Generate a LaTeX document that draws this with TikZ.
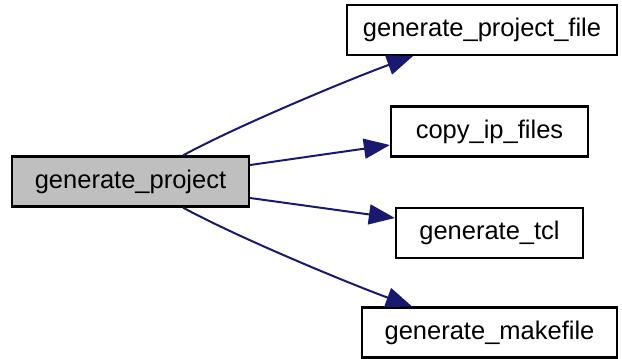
\documentclass[tikz,border=0pt]{standalone}
\usepackage{fontspec}
\setmainfont{Liberation Sans}
\usetikzlibrary{arrows.meta}
\definecolor{edgeblue}{HTML}{191970}
\definecolor{rootfill}{HTML}{BFBFBF}
\tikzset{
  fnbox/.style={draw=black, line width=2.2bp, fill=white, inner sep=0pt,
    minimum height=50bp, font=\fontsize{25.5bp}{30bp}\selectfont},
  rootbox/.style={fnbox, fill=rootfill},
  callarrow/.style={draw=edgeblue, line width=2bp,
    -{Triangle[length=26bp, width=20bp]}}
}
\begin{document}
\begin{tikzpicture}[x=1bp, y=-1bp]
  \useasboundingbox (0,0) rectangle (622,358);

  % caller and its callees
  \node[rootbox, minimum width=237bp] (gp) at (130.5,181.5) {generate\_project};
  \node[fnbox, minimum width=270bp] (gpf) at (482,30) {generate\_project\_file};
  \node[fnbox, minimum width=197bp] (cip) at (489.5,131.5) {copy\_ip\_files};
  \node[fnbox, minimum width=187bp] (tcl) at (489.5,233) {generate\_tcl};
  \node[fnbox, minimum width=255bp] (mk) at (489.5,332.5) {generate\_makefile};

  % call edges
  \path[callarrow] ([xshift=52.5bp]gp.north)
    .. controls +(57,-31) and +(-58,21) .. ([xshift=-69bp]gpf.south);
  \path[callarrow] ([yshift=16.5bp]gp.east) -- ([yshift=-13.5bp]cip.west);
  \path[callarrow] ([yshift=-16.5bp]gp.east) -- ([yshift=15bp]tcl.west);
  \path[callarrow] ([xshift=52.5bp]gp.south)
    .. controls +(57,31) and +(-58,-21) .. ([xshift=-77.5bp]mk.north);
\end{tikzpicture}
\end{document}
